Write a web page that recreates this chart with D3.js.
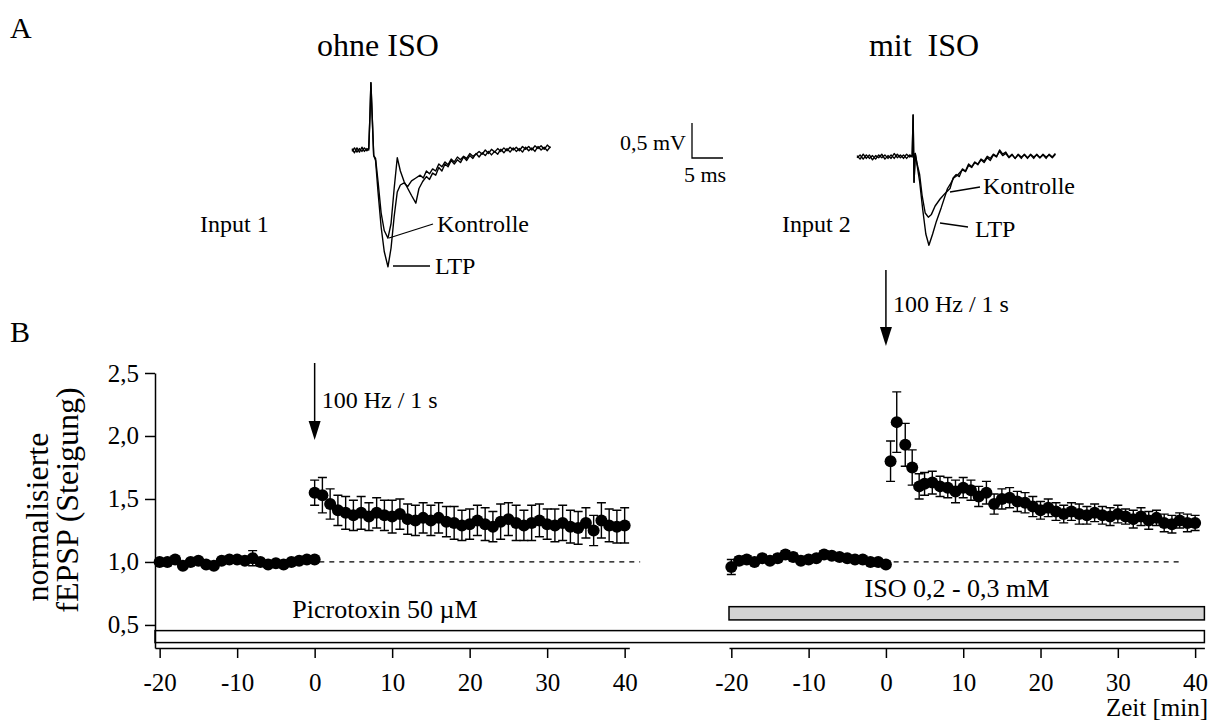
<!DOCTYPE html>
<html>
<head>
<meta charset="utf-8">
<script src="https://cdn.jsdelivr.net/npm/d3@7"></script>
<style>
  body { margin: 0; background: #fff; }
  svg { display: block; }
  text { font-family: 'Liberation Serif', 'Times New Roman', serif; fill: #000; }
</style>
</head>
<body>
<script>
/* LTP figure: example traces (A) and time course of normalised fEPSP slope (B) */

// ---- data ----
let yTicks = [0.5, 1.0, 1.5, 2.0, 2.5]
let xTicks = [-20, -10, 0, 10, 20, 30, 40]

// left panel (ohne ISO, Input 1)
let leftBaseTime = [-20, -19, -18, -17, -16, -15, -14, -13, -12, -11, -10, -9, -8, -7, -6, -5, -4, -3, -2, -1, 0]
let leftBaseVal  = [1.00, 1.00, 1.02, 0.97, 1.00, 1.01, 0.98, 0.97, 1.01, 1.02, 1.02, 1.01, 1.03, 1.00, 0.98, 0.99, 0.98, 1.00, 1.01, 1.02, 1.02]
let leftBaseErr  = [0.02, 0.02, 0.02, 0.02, 0.02, 0.02, 0.02, 0.02, 0.02, 0.02, 0.02, 0.02, 0.06, 0.02, 0.02, 0.02, 0.02, 0.02, 0.02, 0.02, 0.02]

let leftPostTime = [0, 1, 2, 3, 4, 5, 6, 7, 8, 9, 10, 11, 12, 13, 14, 15, 16, 17, 18, 19, 20,
                    21, 22, 23, 24, 25, 26, 27, 28, 29, 30, 31, 32, 33, 34, 35, 36, 37, 38, 39, 40]
let leftPostVal  = [1.55, 1.53, 1.46, 1.41, 1.39, 1.37, 1.39, 1.36, 1.39, 1.37, 1.36, 1.38, 1.34, 1.33, 1.35, 1.33, 1.35, 1.32, 1.31, 1.29, 1.30,
                    1.33, 1.30, 1.28, 1.32, 1.34, 1.31, 1.29, 1.31, 1.33, 1.30, 1.29, 1.31, 1.28, 1.27, 1.31, 1.25, 1.33, 1.29, 1.28, 1.29]
let leftPostErr  = [0.10, 0.14, 0.12, 0.12, 0.13, 0.12, 0.13, 0.11, 0.12, 0.12, 0.13, 0.12, 0.12, 0.12, 0.12, 0.12, 0.12, 0.12, 0.13, 0.12, 0.12,
                    0.12, 0.13, 0.12, 0.14, 0.13, 0.14, 0.12, 0.14, 0.13, 0.12, 0.13, 0.14, 0.13, 0.13, 0.12, 0.12, 0.14, 0.13, 0.13, 0.14]

// right panel (mit ISO, Input 2)
let rightBaseTime = [-20, -19, -18, -17, -16, -15, -14, -13, -12, -11, -10, -9, -8, -7, -6, -5, -4, -3, -2, -1, 0]
let rightBaseVal  = [0.96, 1.01, 1.02, 1.00, 1.03, 1.01, 1.03, 1.06, 1.04, 1.01, 1.02, 1.03, 1.06, 1.05, 1.04, 1.03, 1.02, 1.02, 1.00, 1.00, 0.98]
let rightBaseErr  = [0.06, 0.03, 0.03, 0.02, 0.03, 0.02, 0.03, 0.03, 0.03, 0.02, 0.02, 0.02, 0.03, 0.02, 0.02, 0.02, 0.02, 0.02, 0.02, 0.02, 0.02]

let rightPostTime = [0.6, 1.4, 2.5, 3.4, 4.3, 5, 6, 7, 8, 9, 10, 11, 12, 13, 14, 15, 16, 17, 18, 19, 20,
                     21, 22, 23, 24, 25, 26, 27, 28, 29, 30, 31, 32, 33, 34, 35, 36, 37, 38, 39, 40]
let rightPostVal  = [1.80, 2.11, 1.93, 1.75, 1.60, 1.62, 1.63, 1.60, 1.59, 1.56, 1.59, 1.57, 1.52, 1.55, 1.46, 1.50, 1.51, 1.48, 1.47, 1.44, 1.41,
                     1.43, 1.40, 1.38, 1.40, 1.38, 1.37, 1.39, 1.37, 1.36, 1.38, 1.36, 1.34, 1.36, 1.33, 1.35, 1.31, 1.30, 1.33, 1.31, 1.31]
let rightPostErr  = [0.16, 0.24, 0.17, 0.14, 0.10, 0.09, 0.09, 0.08, 0.08, 0.09, 0.08, 0.08, 0.08, 0.09, 0.08, 0.08, 0.08, 0.08, 0.08, 0.08, 0.07,
                     0.07, 0.07, 0.07, 0.07, 0.08, 0.07, 0.07, 0.07, 0.07, 0.07, 0.06, 0.07, 0.07, 0.07, 0.06, 0.07, 0.07, 0.06, 0.07, 0.06]

// example traces [ms, mV relative to baseline]
let trace1Kontrolle = [[0,0.02],[0.4,-0.04],[0.8,0.03],[1.2,-0.03],[1.6,0.04],[2.0,-0.02],[2.4,0.02],[2.7,0.0],[2.9,0.5],[3.05,0.96],
  [3.25,0.5],[3.5,-0.08],[3.8,-0.12],[4.2,-0.45],[4.7,-0.9],[5.2,-1.15],[5.8,-1.26],[6.3,-1.05],[6.8,-0.55],[7.3,-0.11],
  [7.8,-0.3],[8.4,-0.45],[9.0,-0.55],[9.6,-0.65],[10.3,-0.76],[10.8,-0.55],[11.4,-0.45],[12,-0.38],[12.5,-0.42],[13,-0.33],
  [13.5,-0.36],[14,-0.25],[14.5,-0.3],[15,-0.2],[15.5,-0.24],[16,-0.15],[16.5,-0.2],[17,-0.14],[17.5,-0.18],[18,-0.1],
  [18.5,-0.15],[19,-0.08],[19.5,-0.12],[20,-0.05],[20.5,-0.1],[21,-0.04],[21.5,-0.08],[22,-0.02],[22.5,-0.07],[23,-0.02],
  [23.5,-0.06],[24,0.01],[24.5,-0.04],[25,0.02],[25.5,-0.03],[26,0.03],[26.5,-0.02],[27,0.02],[27.5,-0.03],[28,0.04],
  [28.5,-0.01],[29,0.03],[29.5,-0.02],[30,0.05],[30.5,0.0],[31,0.04],[31.5,-0.01],[32,0.05]]
let trace1LTP = [[0,-0.02],[0.4,0.03],[0.8,-0.03],[1.2,0.02],[1.6,-0.02],[2.0,0.03],[2.4,-0.01],[2.7,0.02],[2.9,0.5],[3.05,0.96],
  [3.25,0.5],[3.5,-0.08],[3.8,-0.15],[4.2,-0.6],[4.7,-1.1],[5.2,-1.45],[5.8,-1.67],[6.3,-1.4],[6.8,-0.95],[7.3,-0.6],
  [7.8,-0.5],[8.4,-0.47],[9.0,-0.52],[9.6,-0.44],[10.3,-0.4],[11,-0.36],[11.5,-0.4],[12,-0.3],[12.5,-0.34],[13,-0.27],
  [13.5,-0.3],[14,-0.2],[14.5,-0.24],[15,-0.17],[15.5,-0.21],[16,-0.13],[16.5,-0.17],[17,-0.1],[17.5,-0.14],[18,-0.09],
  [18.5,-0.12],[19,-0.05],[19.5,-0.09],[20,-0.06],[20.5,-0.02],[21,-0.06],[21.5,0.0],[22,-0.05],[22.5,0.01],[23,-0.03],
  [23.5,0.02],[24,-0.02],[24.5,0.03],[25,-0.01],[25.5,0.04],[26,0.0],[26.5,0.04],[27,-0.01],[27.5,0.05],[28,0.01],
  [28.5,0.05],[29,0.0],[29.5,0.06],[30,0.02],[30.5,0.06],[31,0.01],[31.5,0.07],[32,0.03]]
let trace2Kontrolle = [[0,0.02],[0.5,-0.03],[1,0.04],[1.5,-0.02],[2,0.03],[2.5,-0.04],[3,0.02],[3.5,-0.01],[4,0.04],[4.5,-0.03],
  [5,0.02],[5.5,-0.02],[6,0.05],[6.5,-0.01],[7,0.03],[7.5,-0.02],[8,0.04],[8.5,0.0],[8.9,0.02],[9.05,0.6],
  [9.2,-0.36],[9.4,0.05],[9.7,-0.1],[10.1,-0.25],[10.5,-0.55],[11.0,-0.8],[11.5,-0.86],[12.0,-0.82],[12.6,-0.7],[13.4,-0.6],
  [14.2,-0.52],[15,-0.45],[15.5,-0.3],[16,-0.25],[16.5,-0.28],[17,-0.17],[17.5,-0.2],[18,-0.1],[18.5,-0.14],[19,-0.07],
  [19.5,-0.11],[20,-0.04],[20.5,-0.08],[21,-0.01],[21.5,-0.05],[22,0.03],[22.5,0.0],[23,0.1],[23.5,0.04],[24,0.07],
  [24.5,0.0],[25,0.04],[25.5,-0.02],[26,0.03],[26.5,-0.02],[27,0.04],[27.5,-0.01],[28,0.03],[28.5,-0.02],[29,0.04],
  [29.5,-0.01],[30,0.03],[30.5,-0.02],[31,0.04],[31.5,0.0],[32,0.05]]
let trace2LTP = [[0,-0.01],[0.5,0.03],[1,-0.03],[1.5,0.03],[2,-0.02],[2.5,0.02],[3,-0.03],[3.5,0.03],[4,-0.01],[4.5,0.03],
  [5,-0.02],[5.5,0.03],[6,-0.02],[6.5,0.04],[7,-0.01],[7.5,0.03],[8,-0.02],[8.5,0.03],[8.9,0.0],[9.05,0.6],
  [9.2,-0.36],[9.4,0.05],[9.7,-0.12],[10.1,-0.35],[10.6,-0.75],[11.1,-1.1],[11.6,-1.26],[12.2,-1.1],[12.8,-0.92],[13.6,-0.72],
  [14.6,-0.45],[15.1,-0.38],[15.6,-0.3],[16.2,-0.26],[17,-0.18],[17.5,-0.21],[18,-0.12],[18.5,-0.15],[19,-0.08],[19.5,-0.1],
  [20,-0.03],[20.5,-0.06],[21,0.01],[21.5,-0.02],[22,0.04],[22.5,0.01],[23,0.08],[23.5,0.02],[24,0.05],[24.5,-0.01],
  [25,0.03],[25.5,-0.02],[26,0.04],[26.5,0.0],[27,0.03],[27.5,-0.02],[28,0.04],[28.5,0.0],[29,0.03],[29.5,-0.01],
  [30,0.04],[30.5,0.0],[31,0.03],[31.5,-0.01],[32,0.04]]

// ---- svg ----
let svgWidth = 1215
let svgHeight = 726

let svg = d3.select('body').append('svg')
            .attr('width', svgWidth)
            .attr('height', svgHeight)

// german decimal comma, plain hyphen for negatives
let fmtY = d => d.toFixed(1).replace('.', ',')
let fmtX = d => String(d)

// scales for panel B
let yScale = d3.scaleLinear().domain([0.317, 2.5]).range([648, 373])
let xLeft = d3.scaleLinear().domain([-20.6, 40.6]).range([155, 629.3])
let xRight = d3.scaleLinear().domain([-20.3, 41.2]).range([729, 1204.4])

// scales for the example traces (5 ms = 31 px, 0,5 mV = 35 px)
let tx = d3.scaleLinear().domain([0, 5]).range([0, 31])
let ty = d3.scaleLinear().domain([0, 0.5]).range([0, -35])

// little helper for plain text
let label = (x, y, txt, size, anchor) => {
    return svg.append('text')
              .attr('x', x).attr('y', y)
              .attr('font-size', size)
              .attr('text-anchor', anchor || 'start')
              .style('white-space', 'pre')
              .text(txt)
}

// ---- A: traces ----
label(10, 38, 'A', 30)
label(378, 56, 'ohne ISO', 32, 'middle')
label(924, 56, 'mit  ISO', 32, 'middle')
label(200, 232, 'Input 1', 24)
label(782, 232, 'Input 2', 24)

let traceLine = d3.line().x(d => tx(d[0])).y(d => ty(d[1]))

let drawTraces = (x0, y0, traces) => {
    let g = svg.append('g').attr('transform', 'translate(' + x0 + ',' + y0 + ')')
    g.selectAll('path')
     .data(traces)
     .join('path')
     .attr('d', d => traceLine(d))
     .attr('fill', 'none')
     .attr('stroke', '#000')
     .attr('stroke-width', 1.4)
     .attr('stroke-linejoin', 'round')
}
drawTraces(352, 150, [trace1Kontrolle, trace1LTP])
drawTraces(857, 157, [trace2Kontrolle, trace2LTP])

// leader lines for the trace labels
let leaders = [[389, 238, 433, 224], [393, 266, 430, 266], [950, 192, 980, 187], [940, 223, 968, 227]]
svg.selectAll('.leader')
   .data(leaders)
   .join('line')
   .classed('leader', true)
   .attr('x1', d => d[0]).attr('y1', d => d[1])
   .attr('x2', d => d[2]).attr('y2', d => d[3])
   .attr('stroke', '#000').attr('stroke-width', 1.3)
label(437, 232, 'Kontrolle', 24)
label(435, 274, 'LTP', 24)
label(983, 194, 'Kontrolle', 24)
label(975, 237, 'LTP', 24)

// scale bar
let sb = svg.append('g').attr('transform', 'translate(692,158)')
sb.append('path')
  .attr('d', 'M0,' + ty(0.5) + 'V0H' + tx(5))
  .attr('fill', 'none').attr('stroke', '#000').attr('stroke-width', 1.3)
label(686, 150, '0,5 mV', 22, 'end')
label(684, 182, '5 ms', 22)

// ---- B: time course ----
label(10, 342, 'B', 30)

// treatment bars
svg.append('rect')
   .attr('x', xLeft(-20.6)).attr('y', yScale(0.455))
   .attr('width', xRight(41.2) - xLeft(-20.6)).attr('height', yScale(0.36) - yScale(0.455))
   .attr('fill', '#fff').attr('stroke', '#000').attr('stroke-width', 1.5)
svg.append('rect')
   .attr('x', xRight(-20.3)).attr('y', yScale(0.645))
   .attr('width', xRight(41.2) - xRight(-20.3)).attr('height', yScale(0.54) - yScale(0.645))
   .attr('fill', '#d2d2d2').attr('stroke', '#000').attr('stroke-width', 1.5)
label(385, 618, 'Picrotoxin 50 \u00b5M', 26, 'middle')
label(957, 597, 'ISO 0,2 - 0,3 mM', 26, 'middle')

// axes
let yAxis = d3.axisLeft(yScale).tickValues(yTicks).tickSize(10).tickSizeOuter(0).tickPadding(6).tickFormat(fmtY)
let yG = svg.append('g').attr('transform', 'translate(155,0)').call(yAxis)

let xAxisL = d3.axisBottom(xLeft).tickValues(xTicks).tickSize(10).tickSizeOuter(0).tickPadding(15).tickFormat(fmtX)
let xAxisR = d3.axisBottom(xRight).tickValues(xTicks).tickSize(10).tickSizeOuter(0).tickPadding(15).tickFormat(fmtX)
let xGL = svg.append('g').attr('transform', 'translate(0,648)').call(xAxisL)
let xGR = svg.append('g').attr('transform', 'translate(0,648)').call(xAxisR)

;[yG, xGL, xGR].forEach(g => {
    g.selectAll('path, line').attr('stroke', '#000').attr('stroke-width', 1.5)
    g.selectAll('text').attr('font-size', 25)
     .style('font-family', "'Liberation Serif', 'Times New Roman', serif")
})

label(1208, 716, 'Zeit [min]', 25, 'end')

// y title, two lines
svg.append('text')
   .attr('transform', 'translate(48,517) rotate(-90)')
   .attr('text-anchor', 'middle').attr('font-size', 32)
   .text('normalisierte')
svg.append('text')
   .attr('transform', 'translate(78,500) rotate(-90)')
   .attr('text-anchor', 'middle').attr('font-size', 32)
   .text('fEPSP (Steigung)')

// dashed reference line at 1,0
let dashLines = [[xLeft, 0.6, 42], [xRight, 1.0, 38.5]]
svg.selectAll('.ref')
   .data(dashLines)
   .join('line')
   .classed('ref', true)
   .attr('x1', d => d[0](d[1])).attr('x2', d => d[0](d[2]))
   .attr('y1', yScale(1)).attr('y2', yScale(1))
   .attr('stroke', '#000').attr('stroke-width', 1.3)
   .attr('stroke-dasharray', '5,5')

// stimulation arrows
let drawArrow = (x, yTop, yTip, txt, ty0) => {
    svg.append('line')
       .attr('x1', x).attr('x2', x).attr('y1', yTop).attr('y2', yTip - 10)
       .attr('stroke', '#000').attr('stroke-width', 1.5)
    svg.append('path')
       .attr('d', 'M' + (x - 6) + ',' + (yTip - 19) + 'L' + (x + 6) + ',' + (yTip - 19) + 'L' + x + ',' + yTip + 'Z')
       .attr('fill', '#000')
    label(x + 7, ty0, txt, 24)
}
drawArrow(xLeft(0), 363, 440, '100 Hz / 1 s', 408)
drawArrow(xRight(0), 270, 346, '100 Hz / 1 s', 312)

// points with error bars
let makeSet = (times, vals, errs, xs) => times.map((t, i) => ({x: xs(t), v: vals[i], e: errs[i]}))
let points = [].concat(
    makeSet(leftBaseTime, leftBaseVal, leftBaseErr, xLeft),
    makeSet(leftPostTime, leftPostVal, leftPostErr, xLeft),
    makeSet(rightBaseTime, rightBaseVal, rightBaseErr, xRight),
    makeSet(rightPostTime, rightPostVal, rightPostErr, xRight)
)

let errG = svg.append('g').attr('stroke', '#000').attr('stroke-width', 1.4)
errG.selectAll('.err')
    .data(points)
    .join('path')
    .classed('err', true)
    .attr('d', d => {
        let top = yScale(d.v + d.e), bot = yScale(d.v - d.e)
        return 'M' + d.x + ',' + top + 'V' + bot +
               'M' + (d.x - 4.5) + ',' + top + 'H' + (d.x + 4.5) +
               'M' + (d.x - 4.5) + ',' + bot + 'H' + (d.x + 4.5)
    })
    .attr('fill', 'none')

svg.selectAll('.dot')
   .data(points)
   .join('circle')
   .classed('dot', true)
   .attr('cx', d => d.x)
   .attr('cy', d => yScale(d.v))
   .attr('r', 6)
   .attr('fill', '#000')
</script>
</body>
</html>
